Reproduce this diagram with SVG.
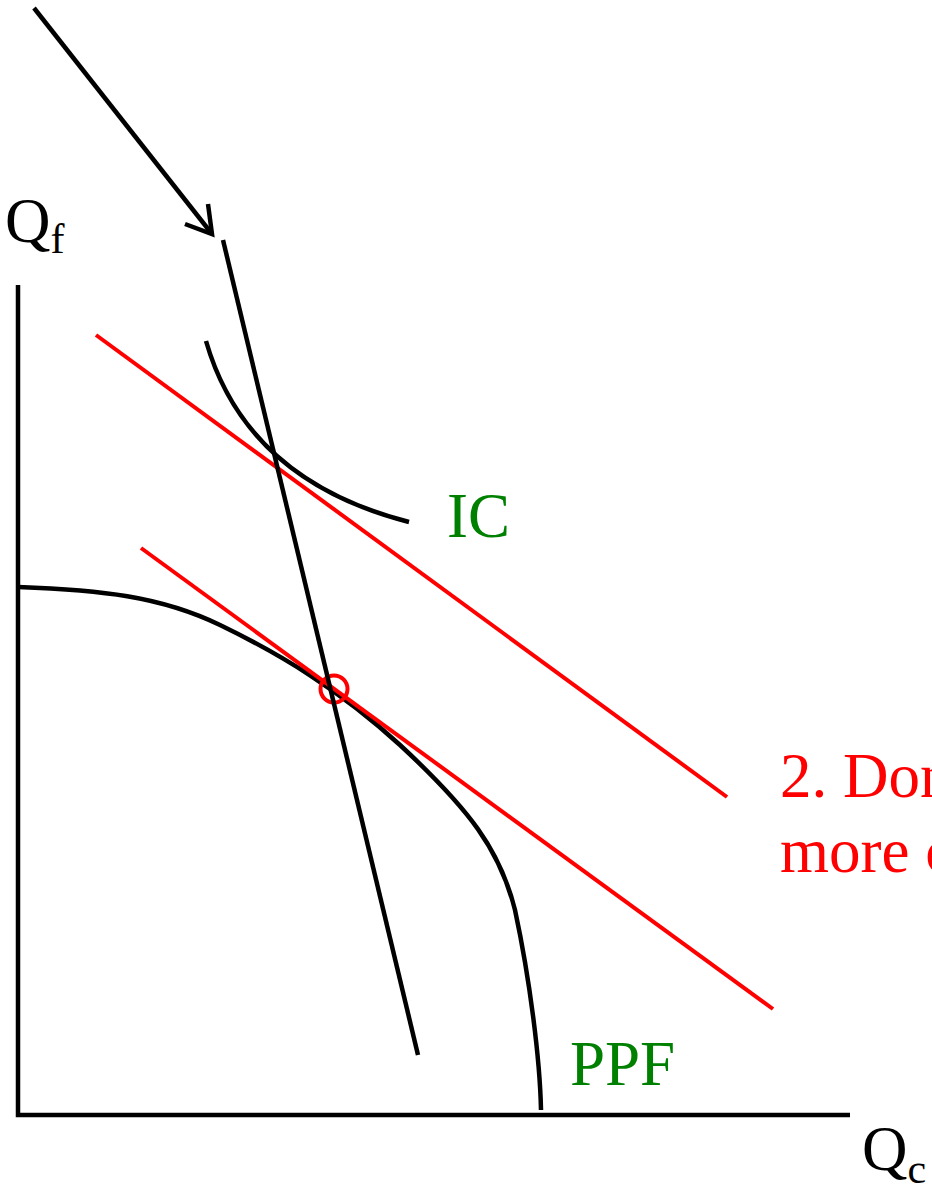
<svg xmlns="http://www.w3.org/2000/svg" width="932" height="1196" viewBox="0 0 932 1196">
<style>
.k{stroke:#000;stroke-width:4.5;fill:none;stroke-linecap:butt}
.r{stroke:#f00;stroke-width:4;fill:none}
.t{font-family:"Liberation Serif","Times New Roman",serif;font-size:63px}
.g{fill:#008000}
.red{fill:#f00}
</style>
<rect width="932" height="1196" fill="#fff"/>
<g id="axes">
<path class="k" d="M18,285 V1115 H850"/>
<text class="t" x="5" y="242">Q<tspan font-size="42" dy="11">f</tspan></text>
<text class="t" x="862" y="1170">Q<tspan font-size="42" dy="13">c</tspan></text>
</g>
<g id="ppf">
<path class="k" d="M18,587 C100,590 160,596 220,625 C280,654 340,690 400,745 C470,810 500,850 515,910 C530,980 540,1060 541,1110"/>
<text class="t g" x="570" y="1085">PPF</text>
</g>
<g id="ic">
<path class="k" d="M206,341 Q246,480 409,522"/>
<text class="t g" x="447" y="537">IC</text>
</g>
<g id="budget-lines">
<line class="r" x1="96" y1="335" x2="727" y2="797"/>
<line class="r" x1="141" y1="548" x2="773" y2="1009"/>
<circle class="r" cx="334" cy="689" r="13.5"/>
</g>
<g id="steep-line">
<line class="k" x1="223" y1="240" x2="418" y2="1055"/>
</g>
<g id="connectors">
<line class="k" x1="34" y1="8" x2="212" y2="234"/>
<path class="k" d="M185,224 L212,234 L208,204"/>
</g>
<g id="label">
<text class="t red" x="780" y="797">2. Don</text>
<text class="t red" x="780" y="872">more c</text>
</g>
</svg>
